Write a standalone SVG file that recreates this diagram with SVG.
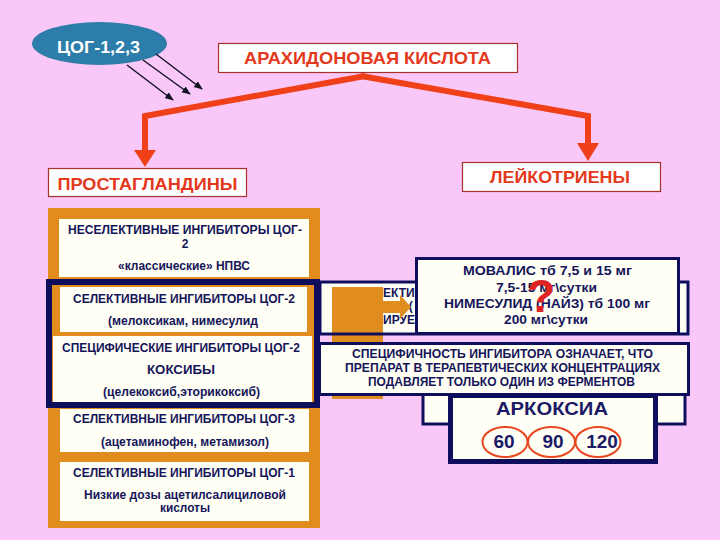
<svg xmlns="http://www.w3.org/2000/svg" width="720" height="540" viewBox="0 0 720 540">
<defs>
<style>
.t{font-family:"Liberation Sans",Arial,sans-serif;font-weight:bold;text-anchor:middle}
.f{font-family:"Liberation Sans",Arial,sans-serif;font-weight:bold}
.rt{fill:#E4381C;font-size:17px}
.nv{fill:#15155A;font-size:12px}
.mv{fill:#15155A;font-size:13px}
.sp{fill:#15155A;font-size:12px}
.tb{fill:#FFFFFF;stroke:#A8302A;stroke-width:1.2}
.wb{fill:#FFFFF6}
.nb{fill:#FFFFF6;stroke:#0E0E5C;stroke-width:3}
.rc{fill:none;stroke:#F0401A;stroke-width:6;stroke-linejoin:miter}
.ba{stroke:#111122;stroke-width:1.4;marker-end:url(#ah)}
.oe{fill:none;stroke:#E8461E;stroke-width:2}
.ak{fill:#1A1A66;font-size:19px}
</style>
<marker id="ah" markerWidth="9" markerHeight="8" refX="8" refY="4" orient="auto" markerUnits="userSpaceOnUse"><path d="M0,0.5 L9,4 L0,7.5 z" fill="#111122"/></marker>
</defs>
<rect width="720" height="540" fill="#FAC8F8"/>

<g id="cog">
<ellipse cx="99.5" cy="43.5" rx="67.5" ry="21.5" fill="#2C7DAA"/>
<text class="t" x="98.5" y="53" style="fill:#FFFFFF;font-size:17px" textLength="83" lengthAdjust="spacingAndGlyphs">ЦОГ-1,2,3</text>
</g>

<g id="arachidonic">
<rect class="tb" x="218.5" y="43.5" width="299" height="29"/>
<text class="t rt" x="367.5" y="64" textLength="247" lengthAdjust="spacingAndGlyphs">АРАХИДОНОВАЯ КИСЛОТА</text>
</g>

<g id="prostaglandins">
<rect class="tb" x="48.5" y="168.5" width="198" height="28"/>
<text class="t rt" x="147.5" y="190" textLength="180" lengthAdjust="spacingAndGlyphs">ПРОСТАГЛАНДИНЫ</text>
</g>

<g id="leukotrienes">
<rect class="tb" x="462.5" y="162.5" width="198" height="29"/>
<text class="t rt" x="560" y="183" textLength="140" lengthAdjust="spacingAndGlyphs">ЛЕЙКОТРИЕНЫ</text>
</g>

<g id="connectors">
<line class="ba" x1="127" y1="65" x2="173" y2="100"/>
<line class="ba" x1="143" y1="60" x2="190" y2="94"/>
<line class="ba" x1="156" y1="54" x2="202" y2="89"/>
<path class="rc" d="M365,76 L145,116 L145,151"/>
<polygon points="134,150 156,150 145,167" fill="#F0401A"/>
<path class="rc" d="M361,76 L588,116 L588,144"/>
<polygon points="577,143 599,143 588,161" fill="#F0401A"/>
</g>

<g id="left-column">
<rect x="48" y="208" width="272" height="320" fill="#E08C1E"/>
<rect class="wb" x="59" y="219" width="250" height="58"/>
<rect class="wb" x="60" y="287" width="247" height="45"/>
<rect class="wb" x="53" y="336" width="259" height="66"/>
<rect class="wb" x="60" y="409" width="249" height="43"/>
<rect class="wb" x="60" y="462" width="249" height="59"/>
<rect x="49" y="282" width="268" height="123" fill="none" stroke="#0E0E5C" stroke-width="6"/>
<text class="t nv" x="185" y="234" textLength="234" lengthAdjust="spacingAndGlyphs">НЕСЕЛЕКТИВНЫЕ ИНГИБИТОРЫ  ЦОГ-</text>
<text class="t nv" x="185" y="248">2</text>
<text class="t nv" x="184" y="270" textLength="132" lengthAdjust="spacingAndGlyphs">«классические» НПВС</text>
<text class="t nv" x="184" y="303" textLength="222" lengthAdjust="spacingAndGlyphs">СЕЛЕКТИВНЫЕ ИНГИБИТОРЫ ЦОГ-2</text>
<text class="t nv" x="183" y="325" textLength="150" lengthAdjust="spacingAndGlyphs">(мелоксикам, нимесулид</text>
<text class="t nv" x="181" y="352" textLength="238" lengthAdjust="spacingAndGlyphs">СПЕЦИФИЧЕСКИЕ ИНГИБИТОРЫ ЦОГ-2</text>
<text class="t nv" x="181" y="374" textLength="68" lengthAdjust="spacingAndGlyphs">КОКСИБЫ</text>
<text class="t nv" x="181.5" y="396" textLength="157" lengthAdjust="spacingAndGlyphs">(целекоксиб,эторикоксиб)</text>
<text class="t nv" x="184" y="423" textLength="222" lengthAdjust="spacingAndGlyphs">СЕЛЕКТИВНЫЕ ИНГИБИТОРЫ ЦОГ-3</text>
<text class="t nv" x="185" y="446" textLength="168" lengthAdjust="spacingAndGlyphs">(ацетаминофен, метамизол)</text>
<text class="t nv" x="184" y="477" textLength="222" lengthAdjust="spacingAndGlyphs">СЕЛЕКТИВНЫЕ ИНГИБИТОРЫ ЦОГ-1</text>
<text class="t nv" x="185" y="499" textLength="202" lengthAdjust="spacingAndGlyphs">Низкие дозы ацетилсалициловой</text>
<text class="t nv" x="185" y="512" textLength="50" lengthAdjust="spacingAndGlyphs">кислоты</text>
</g>

<g id="hidden-selective">
<rect x="320" y="282" width="368" height="52" fill="#FFFFF6"/>
<text class="f sp" x="383" y="297">ЕКТИВ</text>
<text class="f sp" x="383" y="310">РАТ (</text>
<text class="f sp" x="383" y="324">ИРУЕТ</text>
<rect x="332" y="287" width="51" height="112" fill="#E08C1E"/>
<rect x="320" y="282" width="368" height="52" fill="none" stroke="#0E0E5C" stroke-width="3"/>
<polygon points="383,301 400,301 400,295 411,307 400,319 400,313 383,313" fill="#E08C1E"/>
</g>

<g id="movalis">
<rect class="nb" x="416.5" y="258.5" width="262" height="75"/>
<text class="t mv" x="547.5" y="275" textLength="169" lengthAdjust="spacingAndGlyphs">МОВАЛИС тб 7,5 и 15 мг</text>
<text class="t mv" x="546.5" y="292" textLength="101" lengthAdjust="spacingAndGlyphs">7,5-15 мг\сутки</text>
<text class="t mv" x="547" y="308" textLength="206" lengthAdjust="spacingAndGlyphs">НИМЕСУЛИД (НАЙЗ) тб 100 мг</text>
<text class="t mv" x="546" y="324" textLength="84" lengthAdjust="spacingAndGlyphs">200 мг\сутки</text>
<text class="t" x="541" y="312" style="fill:#E02424;font-size:46px">?</text>
</g>

<g id="hidden-arcoxia-back">
<rect x="423" y="380" width="262" height="44" fill="#FFFFF6" stroke="#0E0E5C" stroke-width="3"/>
</g>

<g id="specificity">
<rect class="nb" x="319.5" y="343.5" width="369" height="51"/>
<text class="t sp" x="502.5" y="358" textLength="301" lengthAdjust="spacingAndGlyphs">СПЕЦИФИЧНОСТЬ ИНГИБИТОРА ОЗНАЧАЕТ, ЧТО</text>
<text class="t sp" x="502.5" y="372" textLength="315" lengthAdjust="spacingAndGlyphs">ПРЕПАРАТ В ТЕРАПЕВТИЧЕСКИХ КОНЦЕНТРАЦИЯХ</text>
<text class="t sp" x="501.5" y="386" textLength="267" lengthAdjust="spacingAndGlyphs">ПОДАВЛЯЕТ ТОЛЬКО ОДИН ИЗ ФЕРМЕНТОВ</text>
</g>

<g id="arcoxia">
<rect x="450.5" y="395.5" width="205" height="66" fill="#FFFFF6" stroke="#0E0E5C" stroke-width="5"/>
<text class="t ak" x="552" y="415" textLength="112" lengthAdjust="spacingAndGlyphs">АРКОКСИА</text>
<ellipse class="oe" cx="505" cy="442" rx="22.5" ry="15"/>
<ellipse class="oe" cx="551.5" cy="442" rx="23.5" ry="15"/>
<ellipse class="oe" cx="598" cy="442" rx="22.5" ry="15"/>
<text class="t ak" x="504" y="448">60</text>
<text class="t ak" x="553" y="448">90</text>
<text class="t ak" x="602" y="448">120</text>
</g>
</svg>
